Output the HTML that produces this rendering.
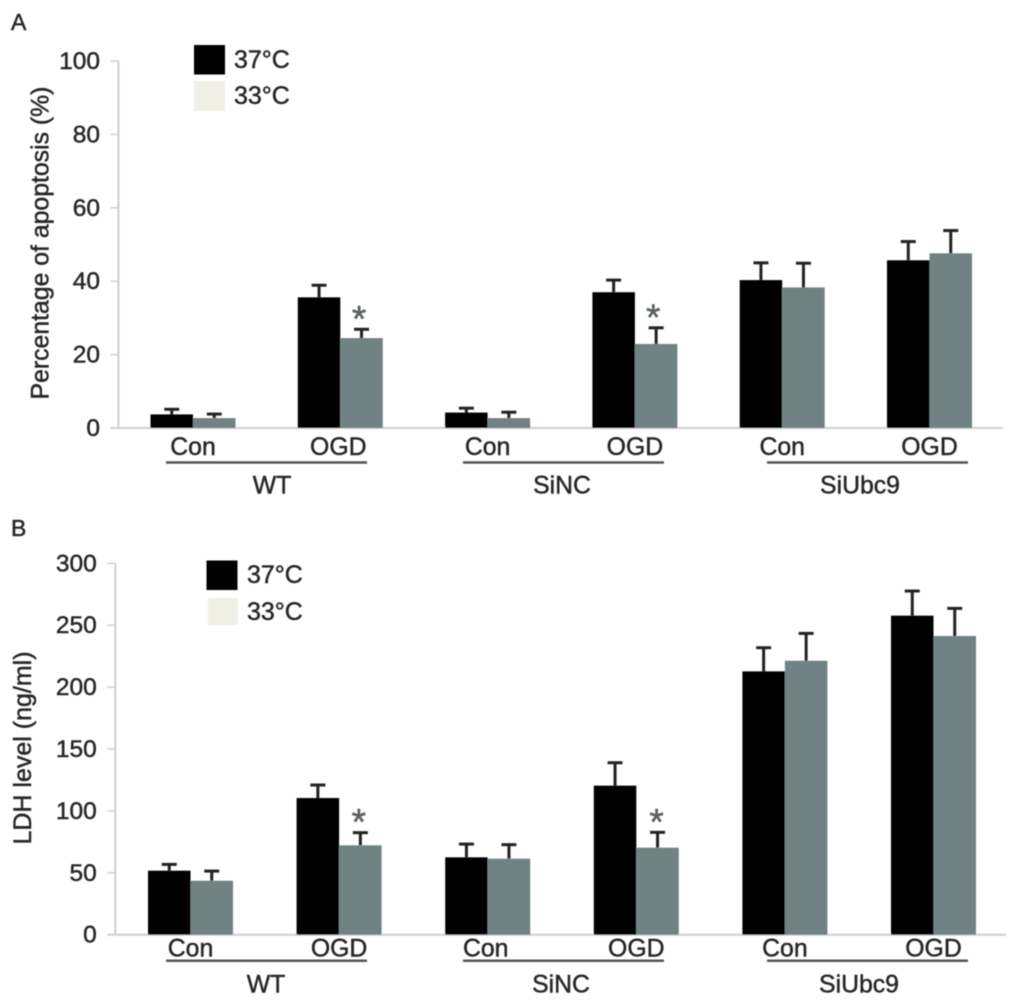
<!DOCTYPE html>
<html>
<head>
<meta charset="utf-8">
<style>
html,body{margin:0;padding:0;background:#fff;}
svg{display:block;}
text{font-family:"Liberation Sans",sans-serif;fill:#262626;stroke:#262626;stroke-width:0.45px;}
</style>
</head>
<body>
<svg id="figure" width="1018" height="1005" viewBox="0 0 1018 1005" xmlns="http://www.w3.org/2000/svg">
<defs><filter id="soft" x="-2%" y="-2%" width="104%" height="104%"><feGaussianBlur stdDeviation="0.5"/></filter></defs>
<g id="root" filter="url(#soft)">
<text x="11" y="30" font-size="23">A</text>
<text x="11" y="536" font-size="23">B</text>
<g>
<rect x="194" y="45" width="31" height="29.5" fill="#050505"/>
<rect x="194" y="81" width="31" height="30" fill="#eff0e3"/>
<text x="234" y="68" font-size="25">37°C</text>
<text x="234" y="104" font-size="25">33°C</text>
</g>
<g>
<rect x="206.5" y="560.5" width="31" height="29.5" fill="#050505"/>
<rect x="208" y="598" width="30" height="27" fill="#eff0e3"/>
<text x="247" y="583" font-size="25">37°C</text>
<text x="247" y="620" font-size="25">33°C</text>
</g>
<text transform="translate(48.5,243) rotate(-90)" text-anchor="middle" font-size="24.8">Percentage of apoptosis (%)</text>
<text transform="translate(31,748) rotate(-90)" text-anchor="middle" font-size="25">LDH level (ng/ml)</text>
</g>
</svg>
<script>
const conditions = ["Con", "OGD", "Con", "OGD", "Con", "OGD"];
const groups = ["WT", "SiNC", "SiUbc9"];

const apoptosisTicks = [0, 20, 40, 60, 80, 100];
const apoptosis37 = [3.7, 35.6, 4.2, 37.0, 40.3, 45.7];
const apoptosis33 = [2.7, 24.5, 2.7, 22.9, 38.3, 47.6];
const apoptosis37Upper = [5.1, 38.9, 5.4, 40.3, 45.0, 50.8];
const apoptosis33Upper = [3.8, 26.9, 4.3, 27.3, 44.9, 53.8];
const apoptosisStars = [1, 3];

const ldhTicks = [0, 50, 100, 150, 200, 250, 300];
const ldh37 = [51.7, 110.4, 62.5, 120.4, 212.7, 257.7];
const ldh33 = [43.6, 72.2, 61.4, 70.3, 221.3, 241.3];
const ldh37Upper = [56.8, 120.9, 73.2, 138.9, 231.8, 277.6];
const ldh33Upper = [51.4, 82.4, 72.7, 82.7, 243.4, 263.6];
const ldhStars = [1, 3];

const SVGNS = "http://www.w3.org/2000/svg";
const root = document.getElementById("root");

function make(parent, tag, props, content) {
  const el = document.createElementNS(SVGNS, tag);
  for (const k in props) el.setAttribute(k, props[k]);
  if (content !== undefined) el.textContent = content;
  parent.appendChild(el);
  return el;
}

function drawChart(cfg) {
  const y = v => cfg.y0 + (cfg.yTop - cfg.y0) * v / cfg.ticks[cfg.ticks.length - 1];
  const cx = i => cfg.firstCenter + cfg.step * i;
  const g = make(root, "g", {});
  
  

  const yAxis = make(g, "line", {x1: cfg.axisX, x2: cfg.axisX, y1: y(cfg.ticks[cfg.ticks.length - 1]), y2: cfg.y0, stroke: "#cfcfcf", "stroke-width": 2});
  
  
  const xAxis = make(g, "line", {x1: cfg.axisX - 8, x2: cfg.axisEnd, y1: cfg.y0, y2: cfg.y0, stroke: "#cfcfcf", "stroke-width": 2});
  
  

  cfg.ticks.forEach(t => {
    const tick = make(g, "line", {x1: cfg.axisX - 8, x2: cfg.axisX, y1: y(t), y2: y(t), stroke: "#cfcfcf", "stroke-width": 1.5});
    
    
    const lab = make(g, "text", {x: cfg.axisX - 18.5, y: y(t) + 8, "text-anchor": "end", "font-size": 24.5}, String(t));
    
    
  });

  conditions.forEach((c, i) => {
    const centre = cx(i);
    const series = [
      {v: cfg.s37[i], u: cfg.u37[i], x: centre - cfg.barW, fill: "#050505", name: "37c"},
      {v: cfg.s33[i], u: cfg.u33[i], x: centre, fill: "#718284", name: "33c"}
    ];
    series.forEach(s => {
      const mid = s.x + cfg.barW / 2;
      const stem = make(g, "line", {x1: mid, x2: mid, y1: y(s.v), y2: y(s.u), stroke: "#222", "stroke-width": 3});
      
      
      const cap = make(g, "line", {x1: mid - 7.5, x2: mid + 7.5, y1: y(s.u), y2: y(s.u), stroke: "#222", "stroke-width": 3});
      
      
      const bar = make(g, "rect", {x: s.x, y: y(s.v), width: cfg.barW, height: y(0) - y(s.v), fill: s.fill});
      
      
    });
    const lab = make(g, "text", {x: centre + cfg.condShift[i], y: cfg.condY, "text-anchor": "middle", "font-size": 24.8}, c);
    
    
  });

  cfg.stars.forEach((i, n) => {
    const star = make(g, "text", {x: cx(i) + cfg.barW / 2 + cfg.starShift[n], y: y(cfg.u33[i]) + 2, "text-anchor": "middle", "font-size": 37, style: "fill:#5a6061;stroke:#5a6061;stroke-width:0.5px"}, "*");
    
    
  });

  groups.forEach((name, k) => {
    const first = cfg.ruleStart[k];
    const last = first + cfg.bracketLen;
    const rule = make(g, "line", {x1: first, x2: last, y1: cfg.ruleY, y2: cfg.ruleY, stroke: "#555", "stroke-width": 2.5});
    
    
    const lab = make(g, "text", {x: cfg.groupX[k], y: cfg.groupY, "text-anchor": "middle", "font-size": 24.8}, name);
    
    
  });
}

drawChart({id: "apoptosis", ticks: apoptosisTicks, s37: apoptosis37, s33: apoptosis33, u37: apoptosis37Upper, u33: apoptosis33Upper, stars: apoptosisStars,
  y0: 428, yTop: 61, axisX: 118.5, axisEnd: 1003, firstCenter: 193, step: 147.3, barW: 42.5,
  condY: 455, ruleY: 462.5, groupY: 493.5, bracketLen: 201,
  ruleStart: [166, 463, 767], groupX: [272, 562, 860], condShift: [0, -2, 0, 0, 0, 0], starShift: [-2.5, -3]});

drawChart({id: "ldh", ticks: ldhTicks, s37: ldh37, s33: ldh33, u37: ldh37Upper, u33: ldh33Upper, stars: ldhStars,
  y0: 934.7, yTop: 563.3, axisX: 115.3, axisEnd: 1006, firstCenter: 190.5, step: 148.6, barW: 42.5,
  condY: 956.5, ruleY: 960.7, groupY: 992.5, bracketLen: 201,
  ruleStart: [166, 463, 767], groupX: [266, 561, 859], condShift: [0, 0, -2, 0, 0, 0], starShift: [-1.5, -1]});
</script>
</body>
</html>
